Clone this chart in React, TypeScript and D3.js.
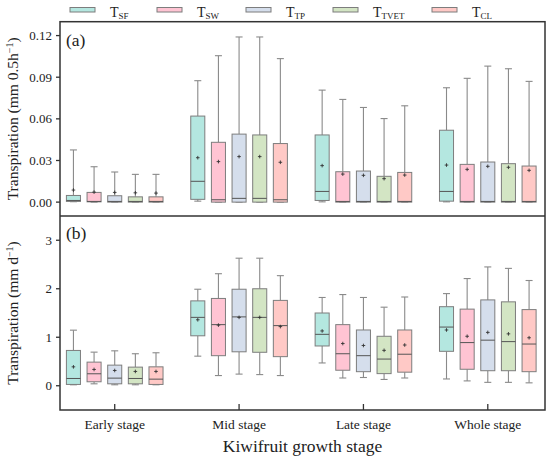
import * as d3 from "d3";
import React from "react";

// stage categories and series
const stages = ["Early stage", "Mid stage", "Late stage", "Whole stage"];
const series = ["SF", "SW", "TP", "TVET", "CL"];
const fills = ["#b4e7e0", "#ffc4d3", "#d5deec", "#d3e5c4", "#ffc9c6"];

// panel (a), mm 0.5h-1 : [low, q1, median, q3, high, mean] per stage
const aSF = [
  [0.0003, 0.0005, 0.0012, 0.0048, 0.0376, 0.0087],
  [0.0007, 0.002, 0.015, 0.062, 0.0875, 0.032],
  [0.0002, 0.0012, 0.0077, 0.0484, 0.0807, 0.0263],
  [0.0002, 0.0007, 0.0077, 0.0518, 0.0824, 0.0267],
];
const aSW = [
  [0.0, 0.0002, 0.0005, 0.007, 0.0255, 0.0072],
  [0.0, 0.0, 0.0017, 0.0431, 0.1055, 0.0292],
  [0.0, 0.0, 0.0005, 0.0219, 0.074, 0.0202],
  [0.0, 0.0, 0.0005, 0.0272, 0.0892, 0.0236],
];
const aTP = [
  [0.0, 0.0, 0.0005, 0.0046, 0.0217, 0.007],
  [0.0, 0.0, 0.0027, 0.049, 0.119, 0.0328],
  [0.0, 0.0, 0.0005, 0.0224, 0.0682, 0.0193],
  [0.0, 0.0, 0.0005, 0.0289, 0.098, 0.0258],
];
const aTVET = [
  [0.0, 0.0, 0.0005, 0.0038, 0.02, 0.0067],
  [0.0, 0.0, 0.0027, 0.0484, 0.119, 0.0328],
  [0.0, 0.0, 0.0005, 0.0186, 0.0602, 0.0169],
  [0.0, 0.0, 0.0005, 0.0277, 0.0961, 0.0251],
];
const aCL = [
  [0.0, 0.0, 0.0005, 0.0038, 0.02, 0.0065],
  [0.0, 0.0, 0.0017, 0.0422, 0.1034, 0.0287],
  [0.0, 0.0, 0.0005, 0.0214, 0.0694, 0.0195],
  [0.0, 0.0, 0.0005, 0.026, 0.087, 0.0229],
];

// panel (b), mm d-1
const bSF = [
  [0.02, 0.027, 0.15, 0.728, 1.146, 0.39],
  [0.61, 1.03, 1.41, 1.75, 1.99, 1.36],
  [0.47, 0.82, 1.06, 1.5, 1.82, 1.13],
  [0.14, 0.71, 1.21, 1.63, 1.9, 1.15],
];
const bSW = [
  [0.04, 0.082, 0.247, 0.487, 0.693, 0.336],
  [0.21, 0.62, 1.26, 1.8, 2.31, 1.25],
  [0.16, 0.32, 0.66, 1.26, 1.88, 0.87],
  [0.1, 0.34, 0.89, 1.58, 2.21, 1.02],
];
const bTP = [
  [0.02, 0.04, 0.157, 0.425, 0.72, 0.315],
  [0.24, 0.7, 1.42, 1.99, 2.63, 1.41],
  [0.17, 0.29, 0.62, 1.15, 1.82, 0.83],
  [0.07, 0.31, 0.94, 1.77, 2.45, 1.1],
];
const bTVET = [
  [0.02, 0.04, 0.15, 0.384, 0.66, 0.295],
  [0.23, 0.69, 1.41, 2.0, 2.63, 1.41],
  [0.13, 0.25, 0.55, 1.02, 1.62, 0.73],
  [0.07, 0.31, 0.91, 1.73, 2.42, 1.07],
];
const bCL = [
  [0.02, 0.027, 0.136, 0.39, 0.68, 0.295],
  [0.21, 0.6, 1.24, 1.76, 2.27, 1.22],
  [0.16, 0.28, 0.65, 1.15, 1.83, 0.84],
  [0.06, 0.29, 0.86, 1.57, 2.17, 0.99],
];

const ticksA = [0, 0.03, 0.06, 0.09, 0.12];
const ticksB = [0, 1, 2, 3];

const FONT = "'Liberation Serif', 'Times New Roman', serif";
const L = 60, R = 545, TOP = 21.7, MID = 216, BOT = 410;

const x = d3.scaleLinear().domain([-0.44, 3.46]).range([L, R]);
const yA = d3.scaleLinear().domain([-0.01, 0.13]).range([MID, TOP]);
const yB = d3.scaleLinear().domain([-0.5, 3.5]).range([BOT, MID]);
const offset = 0.166;
const boxW = x(0.113) - x(0);
const capW = 7;

const Boxes = ({ data, y }) => (
  <g>
    {data.map((s, si) =>
      s.map((d, gi) => {
        const cx = x(gi + (si - 2) * offset);
        const [lo, q1, med, q3, hi, mean] = d;
        return (
          <g key={si + "-" + gi}>
            <g stroke="#8a8a8a" strokeWidth={1.1}>
              <line x1={cx} x2={cx} y1={y(q3)} y2={y(hi)} />
              <line x1={cx} x2={cx} y1={y(q1)} y2={y(lo)} />
              <line x1={cx - capW / 2} x2={cx + capW / 2} y1={y(hi)} y2={y(hi)} />
              <line x1={cx - capW / 2} x2={cx + capW / 2} y1={y(lo)} y2={y(lo)} />
            </g>
            <rect
              x={cx - boxW / 2}
              width={boxW}
              y={y(q3)}
              height={Math.max(1, y(q1) - y(q3))}
              fill={fills[si]}
              stroke="#7d7d7d"
              strokeWidth={1}
            />
            <line
              x1={cx - boxW / 2}
              x2={cx + boxW / 2}
              y1={y(med)}
              y2={y(med)}
              stroke="#555"
              strokeWidth={1}
            />
            <g stroke="#333" strokeWidth={0.9}>
              <line x1={cx - 1.8} x2={cx + 1.8} y1={y(mean)} y2={y(mean)} />
              <line x1={cx} x2={cx} y1={y(mean) - 1.8} y2={y(mean) + 1.8} />
            </g>
          </g>
        );
      })
    )}
  </g>
);

const YAxis = ({ y, ticks, fmt }) => (
  <g fontFamily={FONT} fontSize={13} fill="#222">
    {ticks.map((t) => (
      <g key={t}>
        <line x1={L - 4} x2={L} y1={y(t)} y2={y(t)} stroke="#333" strokeWidth={1.3} />
        <text x={L - 8} y={y(t)} dy="0.35em" textAnchor="end">
          {fmt(t)}
        </text>
      </g>
    ))}
  </g>
);

export default function App() {
  const legendX = [70, 157, 246, 333, 432];
  return (
    <svg
      width={550}
      height={461}
      style={{ position: "absolute", left: 0, top: 0, background: "#fff" }}
    >
      {/* legend */}
      <g fontFamily={FONT} fill="#222">
        {series.map((s, i) => (
          <g key={s}>
            <rect
              x={legendX[i]}
              y={7.5}
              width={25}
              height={4.5}
              fill={fills[i]}
              stroke="#7d7d7d"
              strokeWidth={1}
            />
            <text x={legendX[i] + 40} y={17} fontSize={14}>
              T
              <tspan fontSize={9} dy={2}>
                {s}
              </tspan>
            </text>
          </g>
        ))}
      </g>

      <Boxes data={[aSF, aSW, aTP, aTVET, aCL]} y={yA} />
      <Boxes data={[bSF, bSW, bTP, bTVET, bCL]} y={yB} />

      {/* frames */}
      <g fill="none" stroke="#333" strokeWidth={1.5}>
        <rect x={L} y={TOP} width={R - L} height={BOT - TOP} />
        <line x1={L} x2={R} y1={MID} y2={MID} />
      </g>

      <YAxis y={yA} ticks={ticksA} fmt={d3.format(".2f")} />
      <YAxis y={yB} ticks={ticksB} fmt={d3.format("d")} />

      {/* x ticks and labels */}
      <g fontFamily={FONT} fontSize={13.5} fill="#222">
        {stages.map((s, i) => (
          <g key={s}>
            <line x1={x(i)} x2={x(i)} y1={BOT} y2={BOT - 6} stroke="#333" strokeWidth={1.3} />
            <text x={x(i)} y={429} textAnchor="middle">
              {s}
            </text>
          </g>
        ))}
      </g>
      <text
        x={(L + R) / 2}
        y={452}
        textAnchor="middle"
        fontFamily={FONT}
        fontSize={17.5}
        fill="#222"
      >
        Kiwifruit growth stage
      </text>

      {/* panel labels */}
      <g fontFamily={FONT} fontSize={17.5} fill="#222">
        <text x={66} y={46}>(a)</text>
        <text x={66} y={239}>(b)</text>
      </g>

      {/* y titles */}
      <g fontFamily={FONT} fontSize={15.5} fill="#222">
        <text
          transform={`translate(18,${(TOP + MID) / 2}) rotate(-90)`}
          textAnchor="middle"
        >
          Transpiration (mm 0.5h
          <tspan fontSize={10} dy={-5}>−1</tspan>
          <tspan dy={5}>)</tspan>
        </text>
        <text
          transform={`translate(18,${(MID + BOT) / 2}) rotate(-90)`}
          textAnchor="middle"
        >
          Transpiration (mm d
          <tspan fontSize={10} dy={-5}>−1</tspan>
          <tspan dy={5}>)</tspan>
        </text>
      </g>
    </svg>
  );
}
